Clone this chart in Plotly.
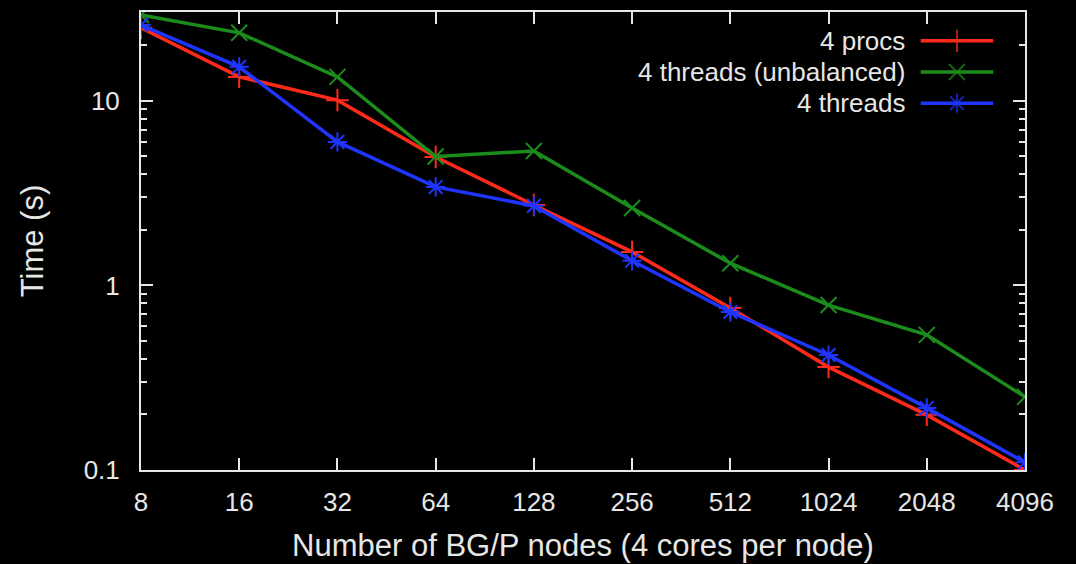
import plotly.graph_objects as go

nodes = [8, 16, 32, 64, 128, 256, 512, 1024, 2048, 4096]
procs4 = [24.9, 13.5, 10.1, 4.97, 2.73, 1.52, 0.755, 0.361, 0.199, 0.100]
threads4_unbal = [29.2, 23.4, 13.5, 5.0, 5.36, 2.63, 1.32, 0.783, 0.540, 0.249]
threads4 = [25.8, 15.3, 6.0, 3.42, 2.70, 1.36, 0.718, 0.42, 0.217, 0.110]

series_names = ["4 procs", "4 threads (unbalanced)", "4 threads"]
series_vals = [procs4, threads4_unbal, threads4]
colors = ["#ff2a1a", "#1c8c1c", "#1f35ff"]
symbols = ["cross-thin-open", "x-thin-open", "asterisk-open"]
msizes = [16, 16, 16]

x_ticks = nodes
y_ticks = [0.1, 1, 10]
y_tick_text = ["0.1", "1", "10"]
y_minor = [0.2, 0.3, 0.4, 0.5, 0.6, 0.7, 0.8, 0.9, 2, 3, 4, 5, 6, 7, 8, 9, 20, 30]

FONT = "Liberation Sans, Arial, sans-serif"
TXT = "#e6e6e6"

fig = go.Figure()
for name, vals, c, s, ms in zip(series_names, series_vals, colors, symbols, msizes):
    fig.add_trace(go.Scatter(
        x=nodes, y=vals, mode="lines+markers", name=name,
        line=dict(color=c, width=3.5),
        marker=dict(symbol=s, size=ms, color=c, line=dict(color=c, width=2)),
        showlegend=False,
    ))

# gnuplot-style key (text right-aligned, sample on the right)
key_y = [0.937, 0.869, 0.801]
for name, c, s, ms, ky in zip(series_names, colors, symbols, msizes, key_y):
    fig.add_trace(go.Scatter(
        x=[0.882, 0.923, 0.964], y=[ky, ky, ky], xaxis="x2", yaxis="y2",
        mode="lines+markers", showlegend=False, hoverinfo="skip",
        line=dict(color=c, width=3.5),
        marker=dict(symbol=s, size=[0, ms, 0], color=c, line=dict(color=c, width=2)),
    ))
    fig.add_annotation(x=0.866, y=ky, xref="x2", yref="y2", text=name,
                       showarrow=False, xanchor="right", yanchor="middle",
                       font=dict(size=26, color=TXT, family=FONT))

tick_font = dict(size=26, color=TXT, family=FONT)
fig.update_layout(
    width=1076, height=564,
    paper_bgcolor="black", plot_bgcolor="black",
    margin=dict(l=141, r=51, t=12, b=94),
    font=dict(family=FONT, color=TXT, size=26),
    xaxis=dict(
        type="log", range=[0.90309, 3.61236], automargin=False,
        tickvals=x_ticks, ticktext=[str(v) for v in x_ticks],
        ticks="inside", ticklen=12, tickwidth=2, tickcolor=TXT,
        showline=True, linecolor=TXT, linewidth=2, mirror="ticks",
        showgrid=False, zeroline=False, ticklabelstandoff=8,
        title=dict(text="Number of BG/P nodes (4 cores per node)", font=dict(size=31, color=TXT, family=FONT), standoff=18),
        tickfont=tick_font,
    ),
    yaxis=dict(
        type="log", range=[-1, 1.482], automargin=False,
        tickvals=y_ticks, ticktext=y_tick_text,
        ticks="inside", ticklen=12, tickwidth=2, tickcolor=TXT,
        minor=dict(tickvals=y_minor, ticks="inside", ticklen=6, tickwidth=2, tickcolor=TXT, showgrid=False),
        showline=True, linecolor=TXT, linewidth=2, mirror="ticks",
        showgrid=False, zeroline=False, ticklabelstandoff=14,
        title=dict(text="Time (s)", font=dict(size=31, color=TXT, family=FONT), standoff=31),
        tickfont=tick_font,
    ),
    xaxis2=dict(range=[0, 1], overlaying="x", visible=False, fixedrange=True),
    yaxis2=dict(range=[0, 1], overlaying="y", visible=False, fixedrange=True),
)

fig.write_html("out.html")
